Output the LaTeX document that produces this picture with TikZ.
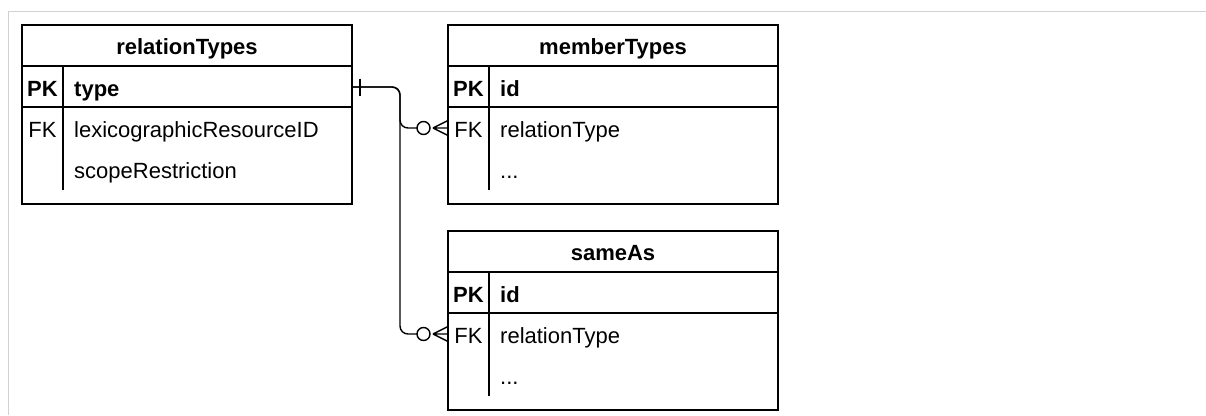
\documentclass[tikz,border=0pt]{standalone}
\usepackage{fontspec}
\setmainfont{Liberation Sans}
\begin{document}
\begin{tikzpicture}[x=1pt,y=-1pt,
  tbl/.style={draw=black, line width=1.4pt, fill=white, anchor=north west, minimum width=330pt, minimum height=179pt, inner sep=0pt, outer sep=0pt},
  sep/.style={draw=black, line width=1.4pt},
  rowbox/.style={minimum width=330pt, minimum height=41pt, inner sep=0pt, outer sep=0pt},
  txt/.style={font=\fontsize{22}{25}\selectfont, inner sep=0pt},
  title/.style={txt, font=\fontsize{22}{25}\selectfont\bfseries, anchor=base},
  keyb/.style={txt, font=\fontsize{22}{25}\selectfont\bfseries, anchor=base},
  key/.style={txt, anchor=base},
  fldb/.style={txt, font=\fontsize{22}{25}\selectfont\bfseries, anchor=base west},
  fld/.style={txt, anchor=base west},
  conn/.style={draw=black, line width=1.4pt},
  frame/.style={draw=black!18, line width=1.5pt}]

\useasboundingbox (0,0) rectangle (1206,415);
\draw[frame] (8.5,415) -- (8.5,11.5) -- (1206,11.5);

% relationTypes
\node[tbl] (rt) at (22,25) {};
\draw[sep] (22,66) -- (352,66) (22,107) -- (352,107) (63,66) -- (63,190);
\node[title] (rtT) at (187,54) {relationTypes};
\node[keyb] (rtPK) at (42.5,96) {PK};
\node[fldb] (rtPKf) at (74,96) {type};
\node[key] (rtFK) at (42.5,137) {FK};
\node[fld] (rtFKf) at (74,137) {lexicographicResourceID};
\node[fld] (rtF3) at (74,178) {scopeRestriction};
\node[rowbox] (rtpkrow) at (187,87) {};

% memberTypes
\node[tbl] (mt) at (448,25) {};
\draw[sep] (448,66) -- (778,66) (448,107) -- (778,107) (489,66) -- (489,190);
\node[title] (mtT) at (613,54) {memberTypes};
\node[keyb] (mtPK) at (468.5,96) {PK};
\node[fldb] (mtPKf) at (500,96) {id};
\node[key] (mtFK) at (468.5,137) {FK};
\node[fld] (mtFKf) at (500,137) {relationType};
\node[fld] (mtF3) at (500,178) {...};
\node[rowbox] (mtfkrow) at (613,128) {};

% sameAs
\node[tbl] (sa) at (448,231) {};
\draw[sep] (448,272) -- (778,272) (448,313) -- (778,313) (489,272) -- (489,396);
\node[title] (saT) at (613,260) {sameAs};
\node[keyb] (saPK) at (468.5,302) {PK};
\node[fldb] (saPKf) at (500,302) {id};
\node[key] (saFK) at (468.5,343) {FK};
\node[fld] (saFKf) at (500,343) {relationType};
\node[fld] (saF3) at (500,384) {...};
\node[rowbox] (safkrow) at (613,334) {};

% connectors
\draw[conn, rounded corners=8pt] (rtpkrow.east) -- ++(48,0) |- ([xshift=-31pt]mtfkrow.west);
\draw[conn, rounded corners=8pt] (rtpkrow.east) -- ++(48,0) |- ([xshift=-31pt]safkrow.west);
\draw[conn] ([xshift=8pt,yshift=8.5pt]rtpkrow.east) -- ([xshift=8pt,yshift=-8.5pt]rtpkrow.east);
\foreach \r in {mtfkrow, safkrow}{
  \draw[conn, fill=white] ([xshift=-24.5pt]\r.west) circle [radius=6.5pt];
  \draw[conn] ([xshift=-15pt]\r.west) -- (\r.west)
              ([xshift=-15pt]\r.west) -- ([yshift=7.5pt]\r.west)
              ([xshift=-15pt]\r.west) -- ([yshift=-7.5pt]\r.west);
}
\end{tikzpicture}
\end{document}
